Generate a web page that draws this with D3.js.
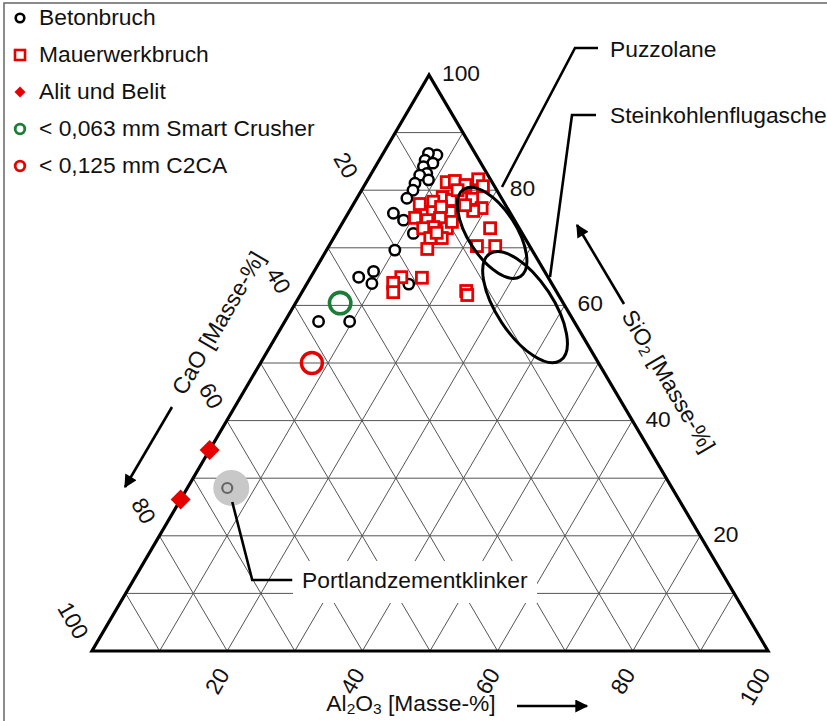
<!DOCTYPE html>
<html>
<head>
<meta charset="utf-8">
<script src="https://cdn.jsdelivr.net/npm/d3@7"></script>
<style>
  html, body { margin: 0; padding: 0; background: #fff; }
  svg { display: block; font-family: "Liberation Sans", Arial, sans-serif; }
</style>
</head>
<body>
<svg id="chart" width="827" height="721"></svg>
<script>
// ---- Data: compositions [CaO, SiO2, Al2O3] in Masse-% ----
const betonbruch = [
  [5.8,86.1,8.1],[6.9,86.4,6.7],[8.0,85.2,6.8],[7.1,84.7,8.2],[8.8,84.1,7.1],
  [8.9,82.9,8.2],[10.1,82.6,7.3],[9.2,81.8,9.0],[11.5,81.2,7.3],[12.4,80.0,7.6],
  [14.0,78.6,7.4],[17.3,76.0,6.7],[16.4,74.8,8.8],[16.1,72.5,11.4],[20.3,69.6,10.1],
  [28.0,64.9,7.1],[25.3,65.9,8.8],[26.6,63.8,9.6],[21.2,63.7,15.1],[37.8,57.2,5.0],
  [33.2,57.2,9.6]
];
const mauerwerkbruch = [
  [6.7,81.4,11.9],[5.4,81.6,13.0],[4.2,80.9,14.9],[1.8,81.9,16.3],[1.7,80.7,17.6],
  [8.6,78.8,12.6],[10.4,78.0,11.6],[7.5,78.3,14.2],[5.9,78.6,15.5],[4.4,78.5,17.1],
  [3.8,76.9,19.3],[5.3,76.4,18.3],[11.5,76.2,12.3],[8.8,76.2,15.0],[13.0,76.2,10.8],
  [14.5,75.2,10.3],[12.9,74.8,12.3],[10.8,75.2,14.0],[12.6,73.6,13.8],[14.2,73.4,12.4],
  [10.7,73.4,15.9],[4.3,73.4,22.3],[12.3,71.7,16.0],[14.0,71.7,14.3],[15.4,69.8,14.8],
  [7.8,70.3,21.9],[5.1,70.3,24.6],[18.7,64.8,16.5],[21.7,64.9,13.4],[23.4,63.9,12.7],
  [24.2,62.3,13.5],[13.3,62.5,24.2],[13.5,61.8,24.7],[5.8,80.0,14.2],[9.7,77.1,13.2],
  [12.6,72.6,14.8],[12.6,77.6,9.8],[6.0,77.4,16.6],[9.4,74.5,16.1]
];
const alitBelit = [[65.1,34.9,0],[73.7,26.3,0]];
const smartCrusher = [[33.0,60.4,6.6]];
const c2ca = [[42.4,50.0,7.6]];
const klinker = [[65.8,28.3,5.9]];
const puzzolaneCenter = [4.4,72.6,23.0];
const steinkohleCenter = [6.0,59.7,34.3];
const tickValues = [20,40,60,80,100];
const gridValues = [10,20,30,40,50,60,70,80,90];
const legendLabels = ["Betonbruch","Mauerwerkbruch","Alit und Belit","< 0,063 mm Smart Crusher","< 0,125 mm C2CA"];

// ---- Geometry ----
const svg = d3.select("#chart");
const RED = "#e60000", GREEN = "#1b7d36";
const FONT = 22.8;
const ySi = d3.scaleLinear().domain([0,100]).range([651,75]);      // SiO2 -> y
const xLeft = d3.scaleLinear().domain([0,100]).range([92,429]);    // left edge x at SiO2 level
const xAl = d3.scaleLinear().domain([0,100]).range([0,676]);       // Al2O3 -> x offset
const proj = d => [xLeft(d[1]) + xAl(d[2]), ySi(d[1])];
const line = d3.line();

// frame
svg.append("path").attr("d","M4,721V3H827").attr("fill","none").attr("stroke","#666").attr("stroke-width",1.5);

// grid
const gridG = svg.append("g").attr("stroke","#555").attr("stroke-width",1).attr("fill","none");
gridValues.forEach(v => {
  gridG.append("path").attr("d", line([proj([100-v,v,0]), proj([0,v,100-v])]));   // SiO2 const
  gridG.append("path").attr("d", line([proj([100-v,0,v]), proj([0,100-v,v])]));   // Al2O3 const
  gridG.append("path").attr("d", line([proj([v,100-v,0]), proj([v,0,100-v])]));   // CaO const
});

// white box behind Portlandzementklinker label
svg.append("rect").attr("x",293).attr("y",561).attr("width",244).attr("height",42).attr("fill","#fff");

// outline
svg.append("path")
  .attr("d", line([proj([0,100,0]), proj([100,0,0]), proj([0,0,100])]) + "Z")
  .attr("fill","none").attr("stroke","#000").attr("stroke-width",3.2).attr("stroke-linejoin","miter");

// tick labels
const tl = svg.append("g").attr("font-size",FONT).attr("fill","#111");
tickValues.forEach(v => {
  const pR = proj([0,v,100-v]);
  tl.append("text").attr("x",pR[0]+13).attr("y",pR[1]).attr("dominant-baseline","middle").text(v);
  const pL = proj([v,100-v,0]);
  tl.append("text").attr("text-anchor","end").attr("dominant-baseline","middle")
    .attr("transform",`translate(${pL[0]-11},${pL[1]-13}) rotate(60)`).text(v);
  const pB = proj([100-v,0,v]);
  tl.append("text").attr("text-anchor","end").attr("dominant-baseline","middle")
    .attr("transform",`translate(${pB[0]-2},${pB[1]+20}) rotate(-60)`).text(v);
});

// arrow marker
const defs = svg.append("defs");
defs.append("marker").attr("id","ah").attr("viewBox","0 0 10 10").attr("refX",9).attr("refY",5)
  .attr("markerWidth",6).attr("markerHeight",5).attr("markerUnits","strokeWidth").attr("orient","auto")
  .append("path").attr("d","M0,0L10,5L0,10Z").attr("fill","#000");
const arrow = (x1,y1,x2,y2) => svg.append("line").attr("x1",x1).attr("y1",y1).attr("x2",x2).attr("y2",y2)
  .attr("stroke","#000").attr("stroke-width",2.6).attr("marker-end","url(#ah)");

// axis titles
function subTitle(g, parts) {
  const t = g.append("text").attr("font-size",FONT).attr("text-anchor","middle").attr("dominant-baseline","middle").attr("fill","#111");
  parts.forEach(p => {
    const ts = t.append("tspan").text(p[0]);
    if (p[1]) ts.attr("font-size",FONT*0.68).attr("dy",5);
    else if (p[2]) ts.attr("dy",-5);
  });
  return t;
}
subTitle(svg.append("g").attr("transform","translate(220,324) rotate(-59.7)"), [["CaO [Masse-%]"]]);
subTitle(svg.append("g").attr("transform","translate(667,382) rotate(59.5)"), [["SiO"],["2",true],[" [Masse-%]",false,true]]);
subTitle(svg.append("g").attr("transform","translate(411,705)"), [["Al"],["2",true],["O",false,true],["3",true],[" [Masse-%]",false,true]]);
arrow(172,407,125,487);
arrow(624,304,577,225);
arrow(517,706,587,706);

// Portlandzementklinker marker
klinker.forEach(d => {
  const p = proj(d);
  svg.append("circle").attr("cx",p[0]+4).attr("cy",p[1]).attr("r",18).attr("fill","#c8c8c8");
  svg.append("circle").attr("cx",p[0]).attr("cy",p[1]).attr("r",5).attr("fill","none").attr("stroke","#666").attr("stroke-width",2.2);
  svg.append("path").attr("d", line([[p[0]+5,p[1]+14],[p[0]+25,p[1]+92],[p[0]+65,p[1]+92]]))
    .attr("fill","none").attr("stroke","#000").attr("stroke-width",2.6);
});
svg.append("text").attr("x",302).attr("y",582).attr("font-size",FONT).attr("dominant-baseline","middle").attr("fill","#111").text("Portlandzementklinker");

// data markers
svg.append("g").selectAll("circle").data(betonbruch).join("circle")
  .attr("cx",d=>proj(d)[0]).attr("cy",d=>proj(d)[1]).attr("r",5.2)
  .attr("fill","#fff").attr("stroke","#000").attr("stroke-width",2.5);
svg.append("g").selectAll("rect").data(mauerwerkbruch).join("rect")
  .attr("x",d=>proj(d)[0]-5.5).attr("y",d=>proj(d)[1]-5.5).attr("width",11).attr("height",11)
  .attr("fill","#fff").attr("stroke",RED).attr("stroke-width",2.8);
const diamond = d3.symbol().type(d3.symbolSquare).size(200);
svg.append("g").selectAll("path").data(alitBelit).join("path")
  .attr("d",diamond).attr("transform",d=>`translate(${proj(d)[0]},${proj(d)[1]}) rotate(45)`).attr("fill",RED);
svg.append("g").selectAll("circle").data(smartCrusher).join("circle")
  .attr("cx",d=>proj(d)[0]).attr("cy",d=>proj(d)[1]).attr("r",10.7)
  .attr("fill","none").attr("stroke",GREEN).attr("stroke-width",3.6);
svg.append("g").selectAll("circle").data(c2ca).join("circle")
  .attr("cx",d=>proj(d)[0]).attr("cy",d=>proj(d)[1]).attr("r",10.5)
  .attr("fill","none").attr("stroke",RED).attr("stroke-width",3.4);

// ellipses
const pz = proj(puzzolaneCenter), sk = proj(steinkohleCenter);
svg.append("ellipse").attr("rx",52).attr("ry",24).attr("transform",`translate(${pz[0]},${pz[1]}) rotate(57)`)
  .attr("fill","none").attr("stroke","#000").attr("stroke-width",3);
svg.append("ellipse").attr("rx",64).attr("ry",28).attr("transform",`translate(${sk[0]},${sk[1]}) rotate(56.5)`)
  .attr("fill","none").attr("stroke","#000").attr("stroke-width",3);

// leaders and labels
svg.append("path").attr("d",line([[598,48],[575,48],[502,187]])).attr("fill","none").attr("stroke","#000").attr("stroke-width",2.6);
svg.append("path").attr("d",line([[596,115],[572,115],[550,277]])).attr("fill","none").attr("stroke","#000").attr("stroke-width",2.6);
svg.append("text").attr("x",610).attr("y",51).attr("font-size",FONT).attr("dominant-baseline","middle").attr("fill","#111").text("Puzzolane");
svg.append("text").attr("x",610).attr("y",117).attr("font-size",FONT).attr("dominant-baseline","middle").attr("fill","#111").text("Steinkohlenflugasche");

// legend
const lg = svg.append("g");
const rowY = d3.scalePoint().domain(legendLabels).range([18,166]);
legendLabels.forEach((lab,i) => {
  const y = rowY(lab);
  if (i===0) lg.append("circle").attr("cx",20).attr("cy",y).attr("r",4.3).attr("fill","none").attr("stroke","#000").attr("stroke-width",2.6);
  if (i===1) lg.append("rect").attr("x",15).attr("y",y-5).attr("width",10).attr("height",10).attr("fill","none").attr("stroke",RED).attr("stroke-width",2.6);
  if (i===2) lg.append("path").attr("d",d3.symbol().type(d3.symbolSquare).size(60)).attr("transform",`translate(20,${y}) rotate(45)`).attr("fill",RED);
  if (i===3) lg.append("circle").attr("cx",20).attr("cy",y).attr("r",4.8).attr("fill","none").attr("stroke",GREEN).attr("stroke-width",2.8);
  if (i===4) lg.append("circle").attr("cx",20).attr("cy",y).attr("r",4.8).attr("fill","none").attr("stroke",RED).attr("stroke-width",2.8);
  lg.append("text").attr("x",39).attr("y",y+1).attr("font-size",FONT).attr("dominant-baseline","middle").attr("fill","#111").text(lab);
});
</script>
</body>
</html>
